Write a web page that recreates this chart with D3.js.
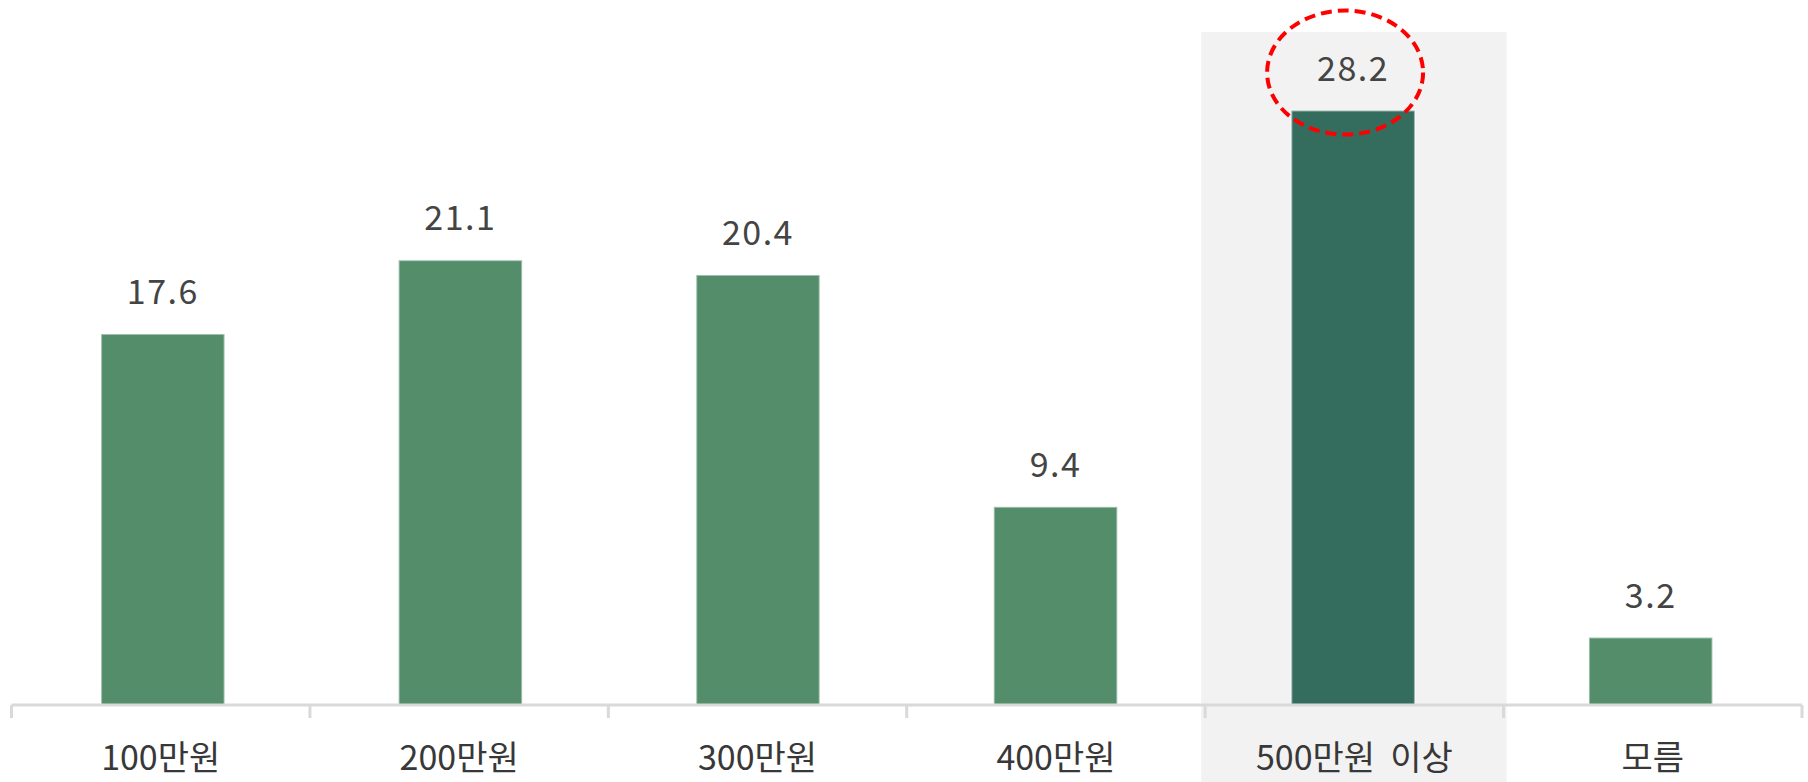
<!DOCTYPE html>
<html><head><meta charset="utf-8">
<script src="https://cdn.jsdelivr.net/npm/d3@7"></script>
<style>
html,body{margin:0;padding:0;background:#fff;}
svg{display:block;}
text{font-family:"Noto Sans CJK KR","Noto Sans",sans-serif;}
</style></head>
<body>
<svg id="chart" width="1808" height="782"></svg>
<script>
const categories = ["100만원", "200만원", "300만원", "400만원", "500만원  이상", "모름"];
const values = [17.6, 21.1, 20.4, 9.4, 28.2, 3.2];
const valueLabels = ["17.6", "21.1", "20.4", "9.4", "28.2", "3.2"];
const highlightCategory = "500만원  이상";

const W = 1808, H = 782;
const left = 11.5, right = 1802, baseY = 705;
const svg = d3.select("#chart");

const xBand = d3.scaleBand().domain(categories).range([left, right]).paddingInner(0).paddingOuter(0);
const xBar = d3.scaleBand().domain(categories).range([left, right]).paddingInner(0.585).paddingOuter(0.301);
const y = d3.scaleLinear().domain([0, 30]).range([baseY, baseY - 21.08 * 30]);

// highlight background
svg.append("rect")
  .attr("x", xBand(highlightCategory) - 4)
  .attr("y", 32)
  .attr("width", xBand.bandwidth() + 7)
  .attr("height", H - 32)
  .attr("fill", "#f2f2f2");

// bars
svg.selectAll("rect.bar").data(categories).enter().append("rect")
  .attr("class", "bar")
  .attr("x", d => xBar(d))
  .attr("y", (d, i) => y(values[i]))
  .attr("width", xBar.bandwidth())
  .attr("height", (d, i) => y(0) - y(values[i]))
  .attr("fill", d => d === highlightCategory ? "#346c5e" : "#538d6a")
  .attr("stroke", "rgba(255,255,255,0.45)")
  .attr("stroke-width", 2);

// value labels
svg.selectAll("text.val").data(categories).enter().append("text")
  .attr("class", "val")
  .attr("x", d => xBar(d) + xBar.bandwidth() / 2)
  .attr("y", (d, i) => y(values[i]) - 30)
  .attr("text-anchor", "middle")
  .attr("font-size", 34)
  .attr("letter-spacing", 1.5)
  .attr("fill", "#444")
  .text((d, i) => valueLabels[i]);

// axis
const axis = d3.axisBottom(xBand).tickSize(0).tickPadding(0);
const gAxis = svg.append("g").attr("transform", `translate(0,${baseY})`).call(axis);
gAxis.select(".domain").attr("stroke", "#d9d9d9").attr("stroke-width", 3)
  .attr("d", `M${left},0H${right}`);
gAxis.selectAll(".tick text")
  .attr("font-size", 34)
  .attr("fill", "#383838")
  .attr("dy", 0)
  .attr("y", 65)
  .style("white-space", "pre")
  .style("font-family", '"Noto Sans CJK KR",sans-serif');

// boundary ticks
const bounds = categories.map(c => xBand(c)).concat([right]);
svg.selectAll("line.btick").data(bounds).enter().append("line")
  .attr("x1", d => d).attr("x2", d => d)
  .attr("y1", baseY).attr("y2", baseY + 13)
  .attr("stroke", "#d9d9d9").attr("stroke-width", 3);

// red dashed ellipse around the highlighted value
const hi = categories.indexOf(highlightCategory);
svg.append("ellipse")
  .attr("cx", xBar(highlightCategory) + xBar.bandwidth() / 2 - 8)
  .attr("cy", y(values[hi]) - 38)
  .attr("rx", 78)
  .attr("ry", 62)
  .attr("fill", "none")
  .attr("stroke", "#ff0000")
  .attr("stroke-width", 4)
  .attr("stroke-dasharray", "11,6");
</script>
</body></html>
